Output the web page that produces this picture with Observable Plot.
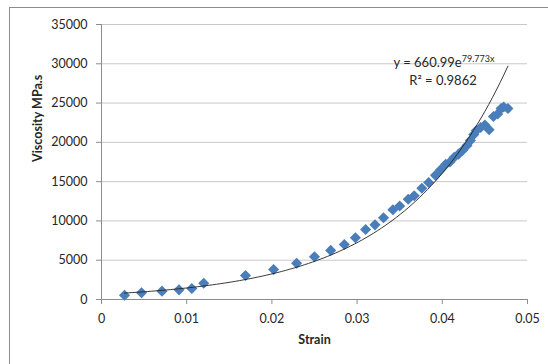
<!DOCTYPE html>
<html>
<head>
<meta charset="utf-8">
<script src="https://cdn.jsdelivr.net/npm/d3@7"></script>
<script src="https://cdn.jsdelivr.net/npm/@observablehq/plot@0.6"></script>
<style>
  html, body { margin: 0; padding: 0; background: #fff; overflow: hidden; }
  #wrap { position: relative; width: 548px; height: 364px; }
  #frame { position: absolute; left: 9px; top: 7px; width: 700px; height: 500px; border: 1px solid #8c8c8c; box-sizing: border-box; pointer-events: none; }
  #chart { position: absolute; left: 0; top: 0; }
</style>
</head>
<body>
<div id="wrap"><div id="frame"></div><div id="chart"></div></div>
<script>
const strain = [0.0027, 0.0047, 0.0071, 0.0091, 0.0106, 0.0120, 0.0169, 0.0202, 0.0229, 0.0250,
  0.0269, 0.0285, 0.0298, 0.0310, 0.0321, 0.0331, 0.0342, 0.0350, 0.0360, 0.0367,
  0.0376, 0.0384, 0.0392, 0.0398, 0.0404, 0.0409, 0.0414, 0.0419, 0.0424, 0.0429,
  0.0433, 0.0437, 0.0440, 0.0445, 0.0450, 0.0455, 0.0460, 0.0465, 0.0469, 0.0472, 0.0477];
const viscosity = [550, 850, 1060, 1230, 1400, 2070, 3050, 3820, 4620, 5450,
  6250, 7000, 7850, 8900, 9500, 10400, 11430, 11900, 12750, 13200,
  14150, 14900, 15800, 16500, 17200, 17500, 18100, 18500, 19000, 19600,
  20250, 21000, 21500, 21900, 22200, 21600, 23300, 23600, 24300, 24500, 24300];
const xTicks = [0, 0.01, 0.02, 0.03, 0.04, 0.05];
const yTicks = [0, 5000, 10000, 15000, 20000, 25000, 30000, 35000];
const fitA = 660.99, fitB = 79.773, r2 = 0.9862;
const xTitle = "Strain";
const yTitle = "Viscosity MPa.s";

const data = strain.map((s, i) => ({strain: s, viscosity: viscosity[i]}));
const x0 = d3.min(strain), x1 = d3.max(strain);
const fit = d3.range(0, 101).map(i => {
  const s = x0 + (x1 - x0) * i / 100;
  return {strain: s, viscosity: fitA * Math.exp(fitB * s)};
});

const plot = Plot.plot({
  width: 548, height: 364,
  marginLeft: 101, marginRight: 21, marginTop: 24, marginBottom: 65,
  x: {domain: [0, 0.05]},
  y: {domain: [0, 35000]},
  style: {fontFamily: "Lato, 'Open Sans', sans-serif", fontSize: "12.5px", color: "#262626", background: "transparent"},
  marks: [
    Plot.gridY(yTicks.filter(d => d > 0), {stroke: "#c8c8c8", strokeOpacity: 1}),
    Plot.ruleY([0], {stroke: "#8c8c8c"}),
    Plot.ruleX([0], {stroke: "#8c8c8c"}),
    Plot.axisX(xTicks, {tickSize: 5, tickPadding: 10, stroke: "#8c8c8c", fill: "#262626",
      tickFormat: d => d === 0 ? "0" : d3.format(".2f")(d), label: null}),
    Plot.axisY(yTicks, {tickSize: 5, tickPadding: 9, stroke: "#8c8c8c", fill: "#262626",
      tickFormat: d => String(d), label: null}),
    Plot.dot(data, {x: "strain", y: "viscosity", symbol: "diamond2", r: 5, fill: "#4a7ebb", stroke: "none"}),
    Plot.line(fit, {x: "strain", y: "viscosity", stroke: "#222", strokeWidth: 0.9}),
    Plot.text([xTitle], {frameAnchor: "bottom", dy: 44, fontWeight: "bold", fontSize: 12.5, fill: "#262626"}),
    Plot.text([yTitle], {frameAnchor: "left", dx: -64, rotate: -90, fontWeight: "bold", fontSize: 12.5, fill: "#262626"}),
    Plot.text(["y = " + fitA + "e"], {x: 0.03427, y: 30064, textAnchor: "start", fontSize: 13, fill: "#262626"}),
    Plot.text(["R² = " + r2], {x: 0.04008, y: 27863, fontSize: 13, fill: "#262626"})
  ]
});

d3.select(plot).selectAll("text")
  .filter(function() { return this.textContent === "y = " + fitA + "e"; })
  .append("tspan").attr("font-size", 9).attr("dy", "-0.6em").text(fitB + "x");

document.getElementById("chart").appendChild(plot);
</script>
</body>
</html>
